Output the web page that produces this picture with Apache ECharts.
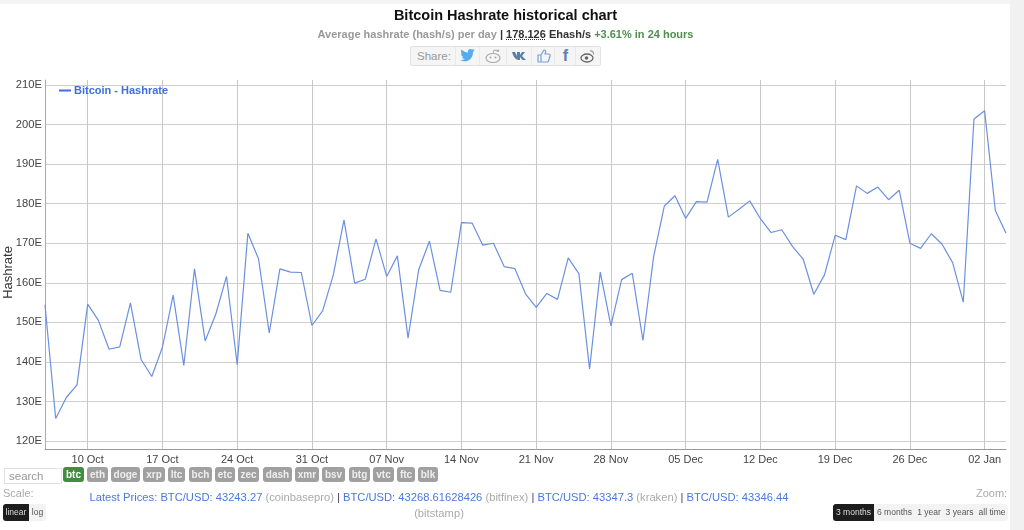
<!DOCTYPE html>
<html>
<head>
<meta charset="utf-8">
<title>Bitcoin Hashrate historical chart</title>
<script src="https://cdn.jsdelivr.net/npm/echarts@6/dist/echarts.min.js"></script>
<style>
html, body { margin: 0; padding: 0; width: 1024px; height: 530px; overflow: hidden; background: #fff; font-family: "Liberation Sans", Arial, sans-serif; }
#page { position: absolute; left: 0; top: 0; width: 1024px; height: 530px; }
#main { position: absolute; left: 0; top: 0; width: 1024px; height: 530px; }
.side { position: absolute; left: 1010px; top: 0; width: 14px; height: 530px; background: #f1f1f1; }
.band { position: absolute; left: 0; top: 0; width: 1024px; height: 4px; background: #f4f4f4; }
.abs { position: absolute; white-space: nowrap; }
#title { left: 0; width: 1011px; top: 7px; text-align: center; font-size: 14.5px; font-weight: bold; color: #111; }
#sub { left: 0; width: 1011px; top: 28px; text-align: center; font-size: 11px; font-weight: bold; color: #999; }
#sub b { color: #333; }
#sub u { color: #333; text-decoration: underline dotted; }
#sub span { color: #4f8f4f; }
#share { left: 410px; top: 46px; width: 189px; height: 18px; border: 1px solid #e2e2e2; border-radius: 2px; background: #f5f5f5; font-size: 11.5px; color: #999; line-height: 18px; }
#share i { position: absolute; top: 0; height: 18px; border-left: 1px solid #e9e9e9; font-style: normal; text-align: center; font-weight: bold; }
#search { left: 4px; top: 468px; width: 52px; height: 14px; border: 1px solid #e2e2e2; font-size: 11.5px; color: #999; padding-left: 4px; line-height: 14px; }
.coin { position: absolute; top: 467px; height: 15px; line-height: 15px; background: #a0a0a0; color: #eee; font-size: 10px; font-weight: bold; text-align: center; border-radius: 3px; }
.coin.on { background: #3f8f3f; color: #fff; }
.small { color: #aaa; font-size: 11px; }
#prices { left: 0; width: 878px; top: 489px; text-align: center; font-size: 11.2px; color: #4a78dc; line-height: 16px; }
#prices em { font-style: normal; color: #aaa; }
#prices b { font-weight: normal; color: #446; }
.btn { position: absolute; top: 504px; height: 17px; line-height: 17px; font-size: 8.5px; text-align: center; background: #f3f3f3; color: #555; }
.btn.on { background: #1d1d1d; color: #ddd; }
</style>
</head>
<body>
<div id="page">
    <div id="main"></div>
    <div class="band"></div>
    <div class="side"></div>
    <div class="abs" id="title">Bitcoin Hashrate historical chart</div>
    <div class="abs" id="sub">Average hashrate (hash/s) per day <b>|</b> <u>178.126</u> <b>Ehash/s</b> <span>+3.61% in 24 hours</span></div>
    <div class="abs" id="share">
        <span style="position:absolute;left:6px;">Share:</span>
        <i style="left:44px;width:24px;">
            <svg width="18" height="16" viewBox="0 0 18 16" style="margin-top:1px"><path d="M1 12c5 3 13 1 13-8l2-2-2 .4 1.500-1.600-2 .8C11 0 8 2 9 4.500 6 4.500 4 3 2.500 1.500 1.500 3.500 2 5 3.500 6L2 5.500C2 7 3 8.500 4.500 9H3c.5 1.200 1.500 2 3 2-1.500 1-3 1.300-5 1z" fill="#55acee"/></svg>
        </i>
        <i style="left:68px;width:26px;">
            <svg width="18" height="16" viewBox="0 0 18 16" style="margin-top:1px"><ellipse cx="9" cy="10" rx="7" ry="4.500" fill="none" stroke="#aaa" stroke-width="1.200"/><circle cx="6.500" cy="9.500" r="1" fill="#aaa"/><circle cx="11.500" cy="9.500" r="1" fill="#aaa"/><path d="M9 5.500 10 2l3 .7" fill="none" stroke="#aaa"/><circle cx="14" cy="2.700" r="1.200" fill="#aaa"/></svg>
        </i>
        <i style="left:95px;width:25px;">
            <svg width="18" height="16" viewBox="0 0 18 16" style="margin-top:1px"><path d="M1 4h3l2 4V4h3v3l2-3h3l-3 4 4 4h-3.500L9 9v3H7C4 11 2 8 1 4z" fill="#5b7fa6"/></svg>
        </i>
        <i style="left:120px;width:23px;">
            <svg width="16" height="16" viewBox="0 0 16 16" style="margin-top:1px"><path d="M2 7h3v7H2zM5 7l3-5c1.500 0 2 1 1.500 2.500L9 6h4c1 0 1.300 1 1 2l-1.500 5c-.2.700-.7 1-1.500 1H5" fill="none" stroke="#7aa0d8" stroke-width="1.200"/></svg>
        </i>
        <i style="left:143px;width:21px;color:#5b7fb8;font-size:16px;">f</i>
        <i style="left:164px;width:24px;">
            <svg width="16" height="16" viewBox="0 0 16 16" style="margin-top:1px"><ellipse cx="7" cy="10" rx="6" ry="4" fill="none" stroke="#666" stroke-width="1.300"/><circle cx="6.500" cy="10" r="1.800" fill="#666"/><path d="M10 3c2-.5 4 1 3.500 3.500" fill="none" stroke="#999" stroke-width="1.200"/></svg>
        </i>
    </div>
    <div class="abs" id="search">search</div>
    <div id="coins"></div>
    <div class="abs small" style="left:3px;top:487px;">Scale:</div>
    <div class="btn on" style="left:3px;width:26px;border-radius:3px 0 0 3px;">linear</div>
    <div class="btn" style="left:29px;width:17px;border-radius:0 3px 3px 0;">log</div>
    <div class="abs" id="prices">Latest Prices: BTC/USD: 43243.27 <em>(coinbasepro)</em> <b>|</b> BTC/USD: 43268.61628426 <em>(bitfinex)</em> <b>|</b> BTC/USD: 43347.3 <em>(kraken)</em> <b>|</b> BTC/USD: 43346.44<br><em>(bitstamp)</em></div>
    <div class="abs small" style="left:976px;top:487px;">Zoom:</div>
    <div class="btn on" style="left:833px;width:41px;border-radius:3px 0 0 3px;">3 months</div>
    <div class="btn" style="left:874px;width:41px;">6 months</div>
    <div class="btn" style="left:915px;width:28px;">1 year</div>
    <div class="btn" style="left:943px;width:33px;">3 years</div>
    <div class="btn" style="left:976px;width:32px;border-radius:0 3px 3px 0;">all time</div>
</div>
<script>
const dates = [
    '06 Oct','07 Oct','08 Oct','09 Oct','10 Oct','11 Oct','12 Oct','13 Oct','14 Oct','15 Oct','16 Oct','17 Oct','18 Oct',
    '19 Oct','20 Oct','21 Oct','22 Oct','23 Oct','24 Oct','25 Oct','26 Oct','27 Oct','28 Oct','29 Oct','30 Oct','31 Oct',
    '01 Nov','02 Nov','03 Nov','04 Nov','05 Nov','06 Nov','07 Nov','08 Nov','09 Nov','10 Nov','11 Nov','12 Nov','13 Nov','14 Nov','15 Nov',
    '16 Nov','17 Nov','18 Nov','19 Nov','20 Nov','21 Nov','22 Nov','23 Nov','24 Nov','25 Nov','26 Nov','27 Nov','28 Nov','29 Nov','30 Nov',
    '01 Dec','02 Dec','03 Dec','04 Dec','05 Dec','06 Dec','07 Dec','08 Dec','09 Dec','10 Dec','11 Dec','12 Dec','13 Dec','14 Dec','15 Dec','16 Dec',
    '17 Dec','18 Dec','19 Dec','20 Dec','21 Dec','22 Dec','23 Dec','24 Dec','25 Dec','26 Dec','27 Dec','28 Dec','29 Dec','30 Dec','31 Dec',
    '01 Jan','02 Jan','03 Jan','04 Jan'
];
const hashrate = [
    154.4,125.7,131.0,134.2,154.6,150.5,143.2,143.8,154.9,140.6,136.3,143.7,156.9,
    139.1,163.5,145.3,152.1,161.6,139.3,172.5,166.0,147.3,163.5,162.7,162.6,149.2,
    152.9,162.0,175.9,159.9,160.9,171.1,161.6,166.8,146.0,163.3,170.5,158.1,157.6,175.2,175.1,
    169.5,170.0,164.1,163.6,157.2,153.8,157.3,155.8,166.3,162.3,138.2,162.7,149.1,160.8,162.4,
    145.4,166.6,179.4,182.0,176.3,180.5,180.4,191.2,176.6,178.6,180.7,176.2,172.7,173.4,169.2,166.0,
    157.1,162.0,172.0,170.9,184.5,182.6,184.2,181.0,183.4,170.0,168.7,172.4,169.8,165.1,155.1,
    201.4,203.5,178.3,172.5
];
const coins = ['btc','eth','doge','xrp','ltc','bch','etc','zec','dash','xmr','bsv','btg','vtc','ftc','blk'];
const coinLeft = [63,87,111,143,168,189,215,238,263,295,322,349,373,397,418];
const coinWidth = [21,21,29,22,17,23,20,21,29,24,23,21,21,18,20];

// coin buttons under the chart
coins.forEach((c, i) => {
    const el = document.createElement('div');
    el.className = 'coin' + (i === 0 ? ' on' : '');
    el.style.left = coinLeft[i] + 'px';
    el.style.width = coinWidth[i] + 'px';
    el.textContent = c;
    document.getElementById('coins').appendChild(el);
});

// one label and one vertical line a week, counted from 10 Oct
const weekly = idx => idx % 7 === 4;

const option = {
    animation: false,
    legend: {
        left: 54,
        top: 80,
        icon: 'rect',
        itemWidth: 12,
        itemHeight: 2,
        itemGap: 0,
        textStyle: { color: '#3f6fdd', fontSize: 11, fontWeight: 'bold', fontFamily: 'Liberation Sans', padding: [0, 0, 0, -2] }
    },
    // the plot runs a little past 120E and 210E, so the frame has its own grid
    grid: [
        { left: 45, right: 18, top: 85, bottom: 89, outerBoundsMode: 'none' },
        { left: 45, right: 18, top: 80, bottom: 81, outerBoundsMode: 'none' }
    ],
    xAxis: [
        {
            gridIndex: 0,
            type: 'category',
            boundaryGap: false,
            data: dates,
            show: false
        },
        {
            gridIndex: 1,
            type: 'category',
            boundaryGap: false,
            data: dates,
            axisLine: { lineStyle: { color: '#999', width: 1 } },
            axisTick: { show: false },
            axisLabel: {
                interval: (idx) => weekly(idx),
                color: '#444',
                fontSize: 11,
                fontFamily: 'Liberation Sans',
                margin: 5
            },
            splitLine: {
                show: true,
                interval: (idx) => weekly(idx),
                lineStyle: { color: '#c8c8c8', width: 1 }
            }
        }
    ],
    yAxis: [
        {
            gridIndex: 0,
            type: 'value',
            min: 120,
            max: 210,
            interval: 10,
            axisLine: { show: false },
            axisTick: { show: false },
            axisLabel: {
                formatter: '{value}E',
                color: '#444',
                fontSize: 11.2,
                fontFamily: 'Liberation Sans',
                margin: 3,
                padding: [3, 0, 0, 0]
            },
            splitLine: { show: true, lineStyle: { color: '#cfcfcf', width: 1 } }
        },
        {
            gridIndex: 1,
            type: 'value',
            min: 0,
            max: 1,
            name: 'Hashrate',
            nameLocation: 'middle',
            nameGap: 30,
            nameTextStyle: { color: '#333', fontSize: 13, fontFamily: 'Liberation Sans', padding: [0, 16, 0, 0] },
            axisLine: { show: true, lineStyle: { color: '#aaa', width: 1 } },
            axisTick: { show: false },
            axisLabel: { show: false },
            splitLine: { show: false }
        }
    ],
    series: [
        {
            name: 'Bitcoin - Hashrate',
            type: 'line',
            xAxisIndex: 0,
            yAxisIndex: 0,
            data: hashrate,
            showSymbol: false,
            lineStyle: { color: '#6b90e0', width: 1.2 },
            itemStyle: { color: '#3f6fdd' }
        }
    ]
};

const chart = echarts.init(document.getElementById('main'));
chart.setOption(option);

window.addEventListener('resize', function () {
    chart.resize();
});
</script>
</body>
</html>
